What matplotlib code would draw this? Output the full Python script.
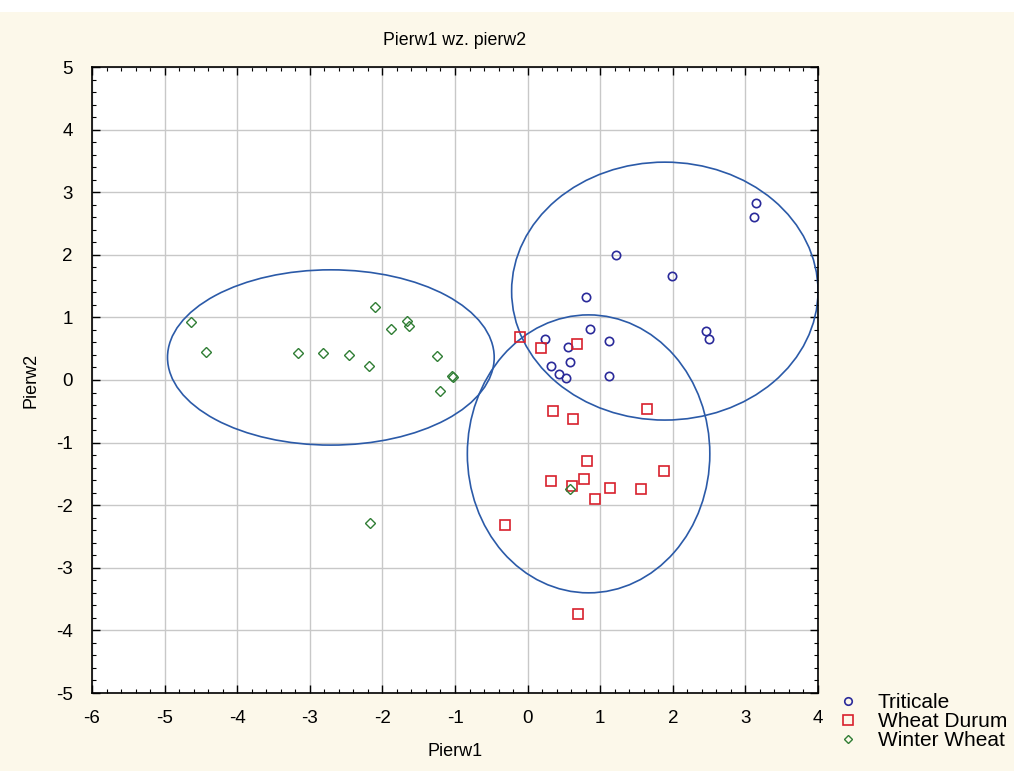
import matplotlib
matplotlib.use('Agg')
from matplotlib import pyplot as plt
from matplotlib.patches import Ellipse, Rectangle

plt.rcParams['font.family'] = ['Liberation Sans', 'DejaVu Sans']
plt.rcParams['axes.unicode_minus'] = False

# punkty
triticale_x = [3.15, 3.12, 1.22, 1.99, 0.80, 2.46, 2.50, 0.86, 1.12, 0.24, 0.56, 0.58, 0.32, 0.43, 0.53, 1.12]
triticale_y = [2.83, 2.60, 2.00, 1.66, 1.33, 0.78, 0.65, 0.81, 0.62, 0.65, 0.53, 0.29, 0.22, 0.10, 0.03, 0.06]

durum_x = [-0.10, 0.18, 0.68, 0.35, 0.63, 1.64, 0.82, 1.88, 0.32, 0.78, 0.61, 1.14, 1.56, 0.93, -0.31, 0.69]
durum_y = [0.69, 0.51, 0.58, -0.50, -0.62, -0.46, -1.29, -1.45, -1.61, -1.58, -1.69, -1.73, -1.74, -1.90, -2.32, -3.74]

winter_x = [-4.64, -4.43, -3.16, -2.82, -2.46, -2.18, -2.10, -1.88, -1.66, -1.63, -1.25, -1.04, -1.03, -1.21, 0.58, -2.17]
winter_y = [0.93, 0.45, 0.43, 0.43, 0.40, 0.22, 1.17, 0.81, 0.94, 0.87, 0.38, 0.06, 0.05, -0.18, -1.74, -2.28]

# elipsy: srodek (x, y), szerokosc, wysokosc
ellipses = [
    ((-2.71, 0.36), 4.50, 2.80),
    ((1.89, 1.42), 4.22, 4.12),
    ((0.84, -1.18), 3.34, 4.44),
]

bg = '#fcf8ea'
fig = plt.figure(figsize=(10.14, 7.71), dpi=100, facecolor=bg)
fig.patches.append(Rectangle((0, 1 - 12 / 771), 1, 12 / 771, transform=fig.transFigure,
                             facecolor='white', edgecolor='none', zorder=0))
ax = fig.add_axes([92 / 1014, 1 - 693 / 771, 726 / 1014, 626 / 771])
ax.set_facecolor('white')

ax.grid(True, color='#c8c8c8', linewidth=1.0)
ax.set_axisbelow(True)

for (c, w, h) in ellipses:
    ax.add_patch(Ellipse(c, w, h, fill=False, edgecolor='#2b5aa8', linewidth=1.2, zorder=2))

ax.plot(triticale_x, triticale_y, 'o', ms=6, mfc='none', mec='#2a2a9a', mew=1.2,
        label='Triticale', zorder=3)
ax.plot(durum_x, durum_y, 's', ms=7.5, mfc='none', mec='#d8202c', mew=1.2,
        label='Wheat Durum', zorder=3)
ax.plot(winter_x, winter_y, 'D', ms=5, mfc='none', mec='#2f7d34', mew=1.0,
        label='Winter Wheat', zorder=3)

ax.set_xlim(-6, 4)
ax.set_ylim(-5, 5)
ax.set_xticks(range(-6, 5))
ax.set_yticks(range(-5, 6))
ax.set_xticks([v / 5 for v in range(-30, 21)], minor=True)
ax.set_yticks([v / 5 for v in range(-25, 26)], minor=True)
ax.tick_params(which='both', direction='in', top=True, right=True, labelsize=13.5)
ax.tick_params(which='major', length=6, width=1)
ax.tick_params(which='minor', length=3, width=0.8)
ax.tick_params(axis='x', pad=12)
ax.tick_params(axis='y', pad=14)
for s in ax.spines.values():
    s.set_linewidth(1.2)
    s.set_color('black')

ax.set_title('Pierw1 wz. pierw2', fontsize=12.8, pad=16)
ax.set_xlabel('Pierw1', fontsize=13, labelpad=12)
ax.set_ylabel('Pierw2', fontsize=13, labelpad=12)

fig.legend(loc='upper left', bbox_to_anchor=(838 / 1014, 1 - 693 / 771), frameon=False,
           fontsize=15, handletextpad=0.9, labelspacing=0.0, handlelength=1.0,
           borderaxespad=0, borderpad=0, markerscale=0.9)

fig.savefig('out.png', dpi=100, facecolor=bg)
